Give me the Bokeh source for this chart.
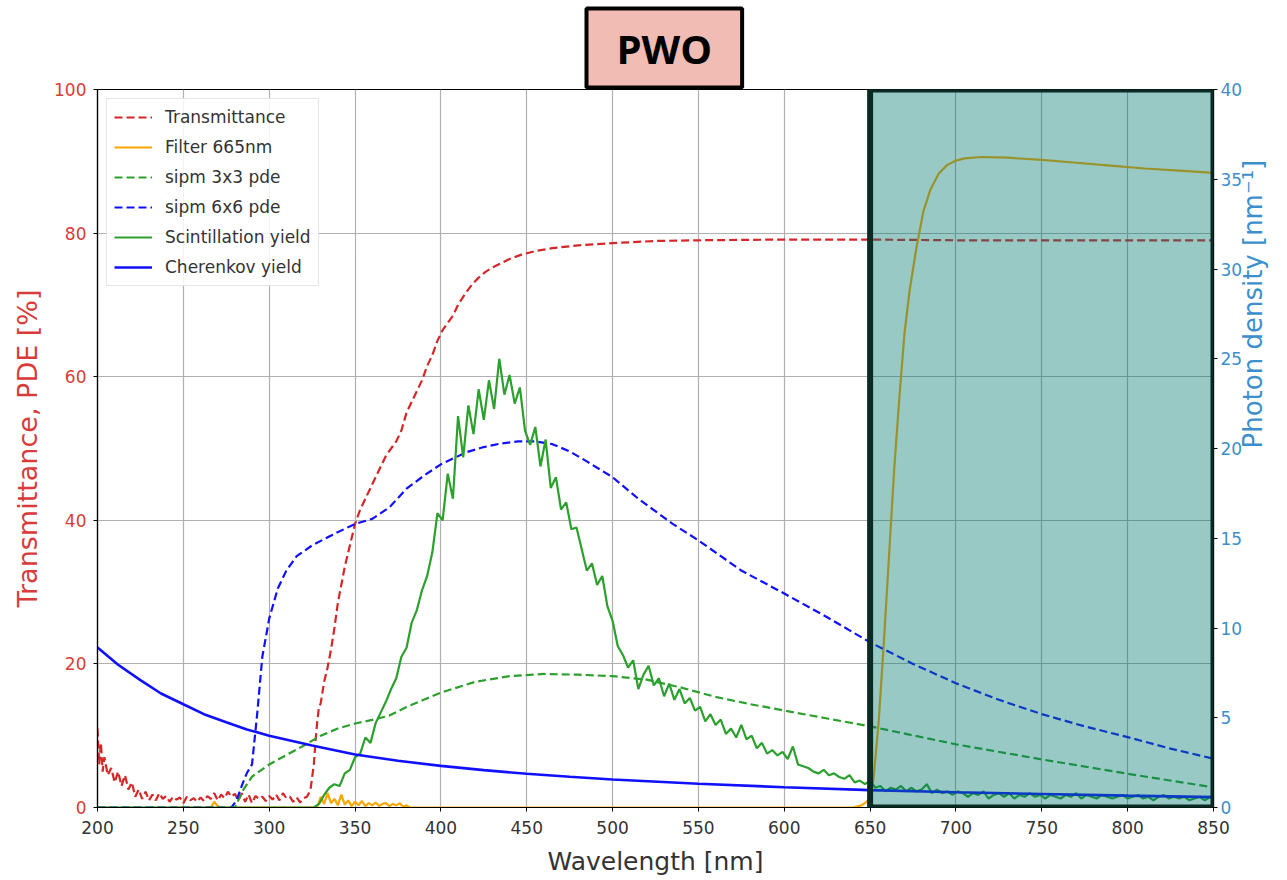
import math
from bokeh.plotting import figure
from bokeh.models import Range1d, LinearAxis, FixedTicker, BoxAnnotation, Legend, LegendItem, Title
from bokeh.embed import file_html
from bokeh.resources import INLINE

# ---------------- data ----------------
x_ticks = [200, 250, 300, 350, 400, 450, 500, 550, 600, 650, 700, 750, 800, 850]
left_ticks = [0, 20, 40, 60, 80, 100]
right_ticks = [0, 5, 10, 15, 20, 25, 30, 35, 40]

# Transmittance [%]
trans_wl = [200, 201, 202, 203, 204,
            206, 208, 210, 212, 214, 216, 218, 220, 222, 224,
            226, 228, 230, 232, 234, 236, 238, 240, 242, 244,
            246, 248, 250, 252, 254, 256, 258, 260, 262, 264,
            266, 268, 270, 272, 274, 276, 278, 280, 282, 284,
            286, 288, 290, 292, 294, 296, 298, 300, 302, 304,
            306, 308, 310, 312, 314, 316, 318, 320, 322, 324,
            326, 327, 328, 329, 330,
            332, 334, 336, 338, 340, 342, 344, 346, 348, 350,
            353, 356, 359, 362, 365, 368, 371, 374, 377, 380,
            383, 386, 389, 392, 395, 398, 401, 404, 407, 410,
            414, 418, 422, 426, 430,
            435, 440, 447, 455, 465, 480, 500, 525, 550, 600,
            650, 700, 750, 800, 850]
trans_pct = [11, 6, 9, 5, 7,
             4.5, 5.5, 3.5, 5, 3, 4.5, 2.5, 3.5, 1.5, 2.5,
             1.2, 2.2, 1.0, 1.8, 1.0, 2.0, 1.2, 1.6, 0.8, 1.5,
             1.1, 1.4, 0.6, 1.5, 1.0, 1.3, 0.8, 1.4, 0.9, 1.6,
             1.2, 2.0, 1.0, 1.8, 1.3, 2.2, 1.5, 1.9, 1.0, 2.0,
             0.8, 1.8, 0.6, 1.6, 1.2, 1.5, 0.9, 1.6, 1.1, 1.8,
             1.0, 2.0, 1.3, 1.5, 0.8, 1.4, 0.7, 1.3, 1.5, 2.4,
             6, 9.3, 12, 14, 14.5,
             17.5, 19.5, 22, 25, 28.5, 31, 33.5, 35.5, 37.5, 39.5,
             41.5, 43, 44.5, 46, 47.5, 49, 50, 51, 52.5, 55,
             56.5, 58, 59.5, 61.5, 63, 65, 66.5, 67.5, 68.5, 70,
             71.5, 72.8, 73.8, 74.6, 75.2,
             75.8, 76.4, 77, 77.5, 77.9, 78.3, 78.6, 78.9, 79, 79.1,
             79.1, 79, 79, 79, 79]

# Filter 665nm transmittance [%]
filt_wl = [200, 266, 268, 270, 272,
           328, 330, 332, 334, 336, 338, 340, 342, 344, 346,
           348, 350, 352, 354, 356, 358, 360, 362, 364, 366,
           368, 370, 372, 374, 376, 378, 380, 382,
           640, 645, 648, 650, 652, 655, 658, 661, 664, 667,
           670, 673, 677, 681, 685, 690, 695, 700, 705, 715,
           730, 750, 770, 790, 810, 830, 850]
filt_pct = [0, 0, 0.8, 0.2, 0,
            0, 1.5, 0.5, 2.0, 0.6, 1.2, 0.3, 1.8, 0.4, 1.0,
            0.2, 0.8, 0.3, 0.9, 0.2, 0.6, 0.3, 0.7, 0.2, 0.5,
            0.6, 0.2, 0.5, 0.3, 0.6, 0.1, 0.3, 0,
            0, 0.3, 0.8, 1.5, 4, 12, 23, 35, 47, 57,
            66, 72, 78, 83, 86, 88.3, 89.5, 90.1, 90.4, 90.6,
            90.5, 90.2, 89.8, 89.4, 89.0, 88.7, 88.4]

# SiPM 3x3 PDE [%]
pde3_wl = [200, 280, 285, 290, 300, 310, 320, 330, 340, 350,
           360, 370, 380, 390, 400, 420, 440, 460, 480, 500,
           520, 540, 560, 580, 600, 625, 650, 700, 750, 800,
           850]
pde3_pct = [0, 0, 2.5, 4.3, 6, 7.3, 8.6, 10, 11, 11.7,
            12.2, 12.8, 14, 15, 16, 17.5, 18.3, 18.6, 18.5, 18.3,
            17.8, 16.7, 15.4, 14.4, 13.5, 12.4, 11.3, 8.8, 6.7, 4.7,
            2.8]

# SiPM 6x6 PDE [%]
pde6_wl = [200, 278, 281, 284, 287, 290, 293, 296, 300, 305,
           310, 316, 325, 337, 350, 360, 370, 380, 390, 400,
           415, 425, 435, 445, 455, 465, 475, 485, 500, 515,
           535, 550, 575, 600, 625, 650, 675, 700, 725, 750,
           775, 800, 825, 850]
pde6_pct = [0, 0, 1.0, 3.0, 4.8, 6.0, 13, 21, 26.3, 30.5,
            33, 35, 36.5, 38, 39.5, 40.2, 41.8, 44.4, 46.2, 47.8,
            49.5, 50.2, 50.7, 51, 51, 50.6, 49.6, 48.2, 46, 43,
            39.5, 37.2, 33, 29.8, 26.5, 23, 20, 17.3, 15, 13,
            11.3, 9.8, 8.2, 6.8]

# Scintillation yield [nm^-1]
scint_wl = [200] + list(range(326, 849, 3)) + [850]
scint_yield = [0.0,
               0.0, 0.2, 0.7, 1.1, 1.3, 1.2, 1.9, 2.1, 2.8, 3.0,
               3.9, 3.6, 4.7, 5.3, 5.9, 6.6, 7.2, 8.4, 8.9, 10.3,
               11.0, 12.1, 12.9, 14.2, 16.4, 16.0, 18.6, 17.2, 21.8, 19.5,
               22.4, 20.8, 23.3, 21.6, 23.8, 22.2, 25.0, 23.0, 24.1, 22.5,
               23.4, 21.0, 20.2, 21.2, 19.0, 20.5, 17.8, 18.4, 16.6, 17.0,
               15.5, 15.6, 14.4, 13.2, 13.6, 12.4, 12.9, 11.2, 10.4, 9.0,
               8.5, 7.8, 8.2, 6.6, 7.4, 7.9, 6.8, 7.2, 6.2, 6.9,
               6.0, 6.6, 5.8, 6.1, 5.4, 5.6, 4.8, 5.2, 4.6, 4.9,
               4.1, 4.4, 3.9, 4.6, 3.8, 4.0, 3.3, 3.6, 3.0, 3.2,
               2.9, 3.1, 2.7, 3.4, 2.4, 2.3, 2.2, 2.0, 1.9, 2.1,
               1.8, 1.9, 1.7, 1.6, 1.8, 1.4, 1.5, 1.3, 1.5, 1.1,
               1.2, 0.9, 1.1, 1.0, 1.2, 0.9, 1.1, 0.9, 1.0, 1.3,
               0.8, 1.0, 0.8, 0.9, 0.7, 0.9, 0.8, 0.6, 0.8, 0.7,
               0.9, 0.5, 0.7, 0.8, 0.6, 0.8, 0.5, 0.7, 0.6, 0.8,
               0.6, 0.7, 0.5, 0.7, 0.6, 0.5, 0.7, 0.6, 0.8, 0.5,
               0.7, 0.6, 0.5, 0.7, 0.6, 0.5, 0.6, 0.7, 0.5, 0.6,
               0.7, 0.5, 0.6, 0.4, 0.6, 0.7, 0.5, 0.6, 0.5, 0.6,
               0.4, 0.5, 0.6, 0.4, 0.6,
               0.5]

# Cherenkov yield [nm^-1]
cher_wl = [200, 212, 225, 237, 250, 262, 275, 287, 300, 325,
           350, 375, 400, 425, 450, 475, 500, 550, 600, 650,
           700, 750, 800, 850]
cher_yield = [8.92, 7.95, 7.1, 6.35, 5.75, 5.2, 4.75, 4.35, 4.0, 3.45,
              2.95, 2.6, 2.32, 2.08, 1.88, 1.71, 1.56, 1.32, 1.13, 0.97,
              0.85, 0.75, 0.66, 0.58]

# filter pass band highlighted
band_start, band_end = 650, 850

# ---------------- styling ----------------
FONT = "DejaVu Sans"
RED_AX = "#d93b3b"
BLUE_AX = "#3d8fcc"
C_RED = "#d62728"
C_ORANGE = "#ffa500"
C_GREEN = "#2ca02c"
C_BLUE = "#1010ff"

p = figure(width=1287, height=880,
           x_range=Range1d(200, 850), y_range=Range1d(0, 100),
           output_backend="svg", toolbar_location=None,
           min_border_left=97, min_border_right=74,
           min_border_top=89, min_border_bottom=73)
p.extra_y_ranges = {"right": Range1d(0, 40)}

p.background_fill_color = "white"
p.border_fill_color = "white"
p.outline_line_color = "black"
p.outline_line_width = 1.2

# title box
p.title = Title(text="PWO", align="left", text_font="Open Sans",
                text_font_size="40px", text_font_style="bold", text_color="black",
                background_fill_color="#f0bcb4", border_line_color="black",
                border_line_width=4, padding=dict(left=30, right=30, top=12, bottom=12),
                standoff=4, offset=489)

# grid
p.xgrid.grid_line_color = "#b0b0b0"
p.ygrid.grid_line_color = "#b0b0b0"
p.xgrid.grid_line_width = 1.2
p.ygrid.grid_line_width = 1.2

# axes
xa = p.xaxis[0]
xa.ticker = FixedTicker(ticks=x_ticks)
xa.axis_label = "Wavelength [nm]"
ya = p.yaxis[0]
ya.ticker = FixedTicker(ticks=left_ticks)
ya.axis_label = "Transmittance, PDE [%]"

ra = LinearAxis(y_range_name="right", axis_label="Photon density [nm\u207b\u00b9]")
ra.ticker = FixedTicker(ticks=right_ticks)
p.add_layout(ra, "right")

for ax in (xa, ya, ra):
    ax.axis_line_color = "black"
    ax.axis_line_width = 1.2
    ax.major_tick_line_color = "black"
    ax.major_tick_in = 0
    ax.major_tick_out = 4
    ax.minor_tick_line_color = None
    ax.major_label_text_font = FONT
    ax.major_label_text_font_size = "17px"
    ax.axis_label_text_font = FONT
    ax.axis_label_text_font_style = "normal"

xa.major_label_text_color = "#333333"
xa.axis_label_text_color = "#333333"
xa.axis_label_text_font_size = "25px"
xa.major_label_standoff = 9
xa.axis_label_standoff = 10

ya.major_label_text_color = RED_AX
ya.axis_label_text_color = RED_AX
ya.axis_label_text_font_size = "27px"
ya.major_label_standoff = 7
ya.axis_label_standoff = 8

ra.major_label_text_color = BLUE_AX
ra.axis_label_text_color = BLUE_AX
ra.axis_label_text_font_size = "26px"
ra.major_label_standoff = 3
ra.axis_label_standoff = 8
try:
    ra.axis_label_orientation = math.pi / 2
except Exception:
    pass
ra.axis_label_text_align = "center"
ra.axis_label_text_baseline = "middle"

# ---------------- lines ----------------
r_trans = p.line(trans_wl, trans_pct, line_color=C_RED, line_width=2.2, line_dash="8 4")
r_filt = p.line(filt_wl, filt_pct, line_color=C_ORANGE, line_width=2.2)
r_p3 = p.line(pde3_wl, pde3_pct, line_color=C_GREEN, line_width=2.2, line_dash="8 4")
r_p6 = p.line(pde6_wl, pde6_pct, line_color=C_BLUE, line_width=2.2, line_dash="8 4")
r_sc = p.line(scint_wl, scint_yield, line_color=C_GREEN, line_width=2.2, y_range_name="right")
r_ch = p.line(cher_wl, cher_yield, line_color=C_BLUE, line_width=2.6, y_range_name="right")

# highlighted band
band = BoxAnnotation(left=band_start, right=band_end, bottom=0, top=100,
                     fill_color="#00786e", fill_alpha=0.4,
                     line_color="#0b2a24", line_alpha=1.0, line_width=6, level="overlay")
p.add_layout(band)

# legend
legend = Legend(items=[
    LegendItem(label="Transmittance", renderers=[r_trans]),
    LegendItem(label="Filter 665nm", renderers=[r_filt]),
    LegendItem(label="sipm 3x3 pde", renderers=[r_p3]),
    LegendItem(label="sipm 6x6 pde", renderers=[r_p6]),
    LegendItem(label="Scintillation yield", renderers=[r_sc]),
    LegendItem(label="Cherenkov yield", renderers=[r_ch]),
], location="top_left")
legend.label_text_font = FONT
legend.label_text_font_size = "17px"
legend.label_text_color = "#333333"
legend.glyph_width = 38
legend.glyph_height = 22
legend.label_height = 22
legend.label_standoff = 13
legend.spacing = 8
legend.padding = 7
legend.margin = 9
legend.border_line_color = "#cccccc"
legend.border_line_width = 1
legend.background_fill_color = "white"
legend.background_fill_alpha = 0.85
p.add_layout(legend)

open("out.html", "w").write(file_html(p, INLINE))
